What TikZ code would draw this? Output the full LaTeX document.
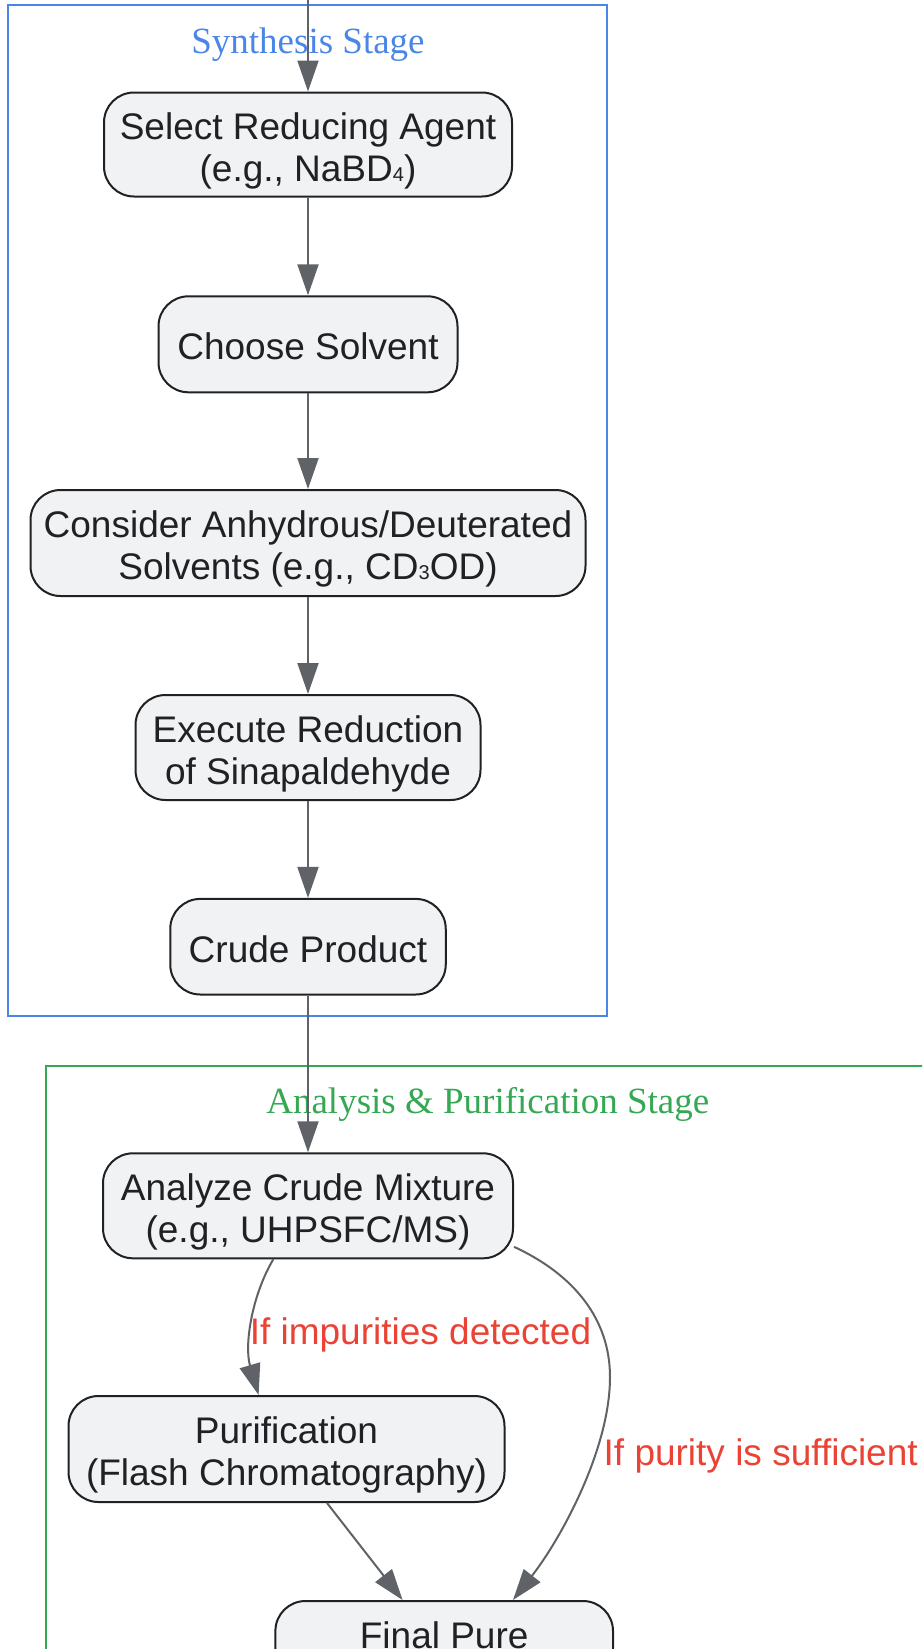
\documentclass[tikz,border=0pt]{standalone}
\usepackage{fontspec}
\setmainfont{Liberation Serif}
\setsansfont{Liberation Sans}
\usetikzlibrary{arrows.meta}
\definecolor{cblue}{HTML}{4A86E8}
\definecolor{cgreen}{HTML}{34A853}
\definecolor{cred}{HTML}{EA4335}
\definecolor{carrow}{HTML}{5F6368}
\definecolor{cfill}{HTML}{F1F2F4}
\definecolor{cborder}{HTML}{202124}
\definecolor{ctext}{HTML}{202124}
\newcommand{\subdig}[1]{{\fontsize{20}{20}\selectfont #1}}
\newcommand{\twoline}{\rule{0pt}{39.6pt}}
\newcommand{\oneline}{\rule{0pt}{31pt}}
\begin{document}
\begin{tikzpicture}[x=1pt,y=-1pt,
  box/.style={draw=cborder, fill=cfill, line width=2pt, rounded corners=30pt,
    inner sep=0pt, align=center, text=ctext,
    font=\sffamily\fontsize{37}{42}\selectfont},
  flow/.style={draw=carrow, line width=2pt, -{Triangle[length=31pt,width=21pt]}},
  elabel/.style={text=cred, font=\sffamily\fontsize{37}{42}\selectfont, inner sep=0pt},
  ctitle/.style={font=\rmfamily\fontsize{37}{42}\selectfont, inner sep=0pt},
  cluster/.style={line width=2pt}]
\useasboundingbox (0,0) rectangle (922,1649);
\clip (0,0) rectangle (922,1649);
% clusters
\draw[cluster, draw=cblue] (8.4,5.3) rectangle (606.6,1015.6);
\draw[cluster, draw=cgreen] (46.3,1066) rectangle (980,1720);
\node[ctitle, text=cblue] (t1) at (308,44.5) {Synthesis Stage};
\node[ctitle, text=cgreen] (t2) at (487.8,1104) {Analysis \& Purification Stage};
% nodes
\node[box, minimum width=408pt, minimum height=104pt] (n1) at (308,144.5) {\twoline Select Reducing Agent\\(e.g., NaBD\subdig{4})};
\node[box, minimum width=299pt, minimum height=96pt] (n2) at (308,344.3) {\oneline Choose Solvent};
\node[box, minimum width=555pt, minimum height=106pt] (n3) at (308,543) {\twoline Consider Anhydrous/Deuterated\\Solvents (e.g., CD\subdig{3}OD)};
\node[box, minimum width=345pt, minimum height=105pt] (n4) at (308,747.5) {\twoline Execute Reduction\\of Sinapaldehyde};
\node[box, minimum width=275.5pt, minimum height=95.6pt] (n5) at (308,946.7) {\oneline Crude Product};
\node[box, minimum width=410pt, minimum height=105pt] (n6) at (308,1205.8) {\twoline Analyze Crude Mixture\\(e.g., UHPSFC/MS)};
\node[box, minimum width=436pt, minimum height=106pt] (n7) at (286.5,1449) {\twoline Purification\\(Flash Chromatography)};
\node[box, minimum width=337.6pt, minimum height=106pt, anchor=north] (n8) at (444.2,1600) {};
\node[font=\sffamily\fontsize{37}{42}\selectfont, text=ctext, inner sep=0pt] (n8t) at (444.2,1635) {Final Pure};
% connectors
\coordinate (start) at (308,0);
\draw[flow] (start) -- (n1.north);
\draw[flow] (n1) -- (n2);
\draw[flow] (n2) -- (n3);
\draw[flow] (n3) -- (n4);
\draw[flow] (n4) -- (n5);
\draw[flow] (n5) -- (n6);
\draw[flow] ([xshift=-34.7pt]n6.south) .. controls (252,1295) and (244,1345) .. ([xshift=-27.9pt]n7.north);
\draw[flow] ([yshift=-41pt]n6.east) .. controls (575,1275) and (610,1320) .. (610,1377)
  .. controls (610,1450) and (560,1540) .. ([xshift=68.8pt]n8.north);
\draw[flow] ([xshift=40.5pt]n7.south) -- ([xshift=-41.6pt]n8.north);
% edge labels
\node[elabel] (l1) at (420.5,1334.5) {If impurities detected};
\node[elabel, anchor=west] (l2) at (603.5,1455.5) {If purity is sufficient};
\end{tikzpicture}
\end{document}
